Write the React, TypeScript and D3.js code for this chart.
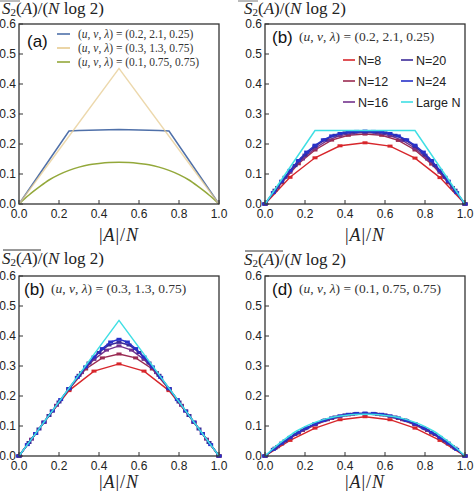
import React from "react";
import * as d3 from "d3";

// ---------- data ----------
const xTicks = [0, 0.2, 0.4, 0.6, 0.8, 1.0];
const yTicks = [0, 0.1, 0.2, 0.3, 0.4, 0.5, 0.6];

// panel (a)
const aBlueX = [0, 0.25, 0.3, 0.4, 0.5, 0.6, 0.7, 0.75, 1];
const aBlueY = [0, 0.243, 0.245, 0.247, 0.248, 0.247, 0.245, 0.243, 0];
const aTanX = [0, 0.5, 1];
const aTanY = [0, 0.452, 0];
const greenX = [0, 0.05, 0.1, 0.15, 0.2, 0.25, 0.3, 0.35, 0.4, 0.45, 0.5, 0.55, 0.6, 0.65, 0.7, 0.75, 0.8, 0.85, 0.9, 0.95, 1];
const greenY = [0, 0.030, 0.056, 0.080, 0.098, 0.112, 0.123, 0.131, 0.135, 0.138, 0.139, 0.138, 0.135, 0.131, 0.123, 0.112, 0.098, 0.080, 0.056, 0.030, 0];
const aLegend = ["(0.2, 2.1, 0.25)", "(0.3, 1.3, 0.75)", "(0.1, 0.75, 0.75)"];

const sizes = [8, 12, 16, 20, 24];
const seriesNames = ["N=8", "N=12", "N=16", "N=20", "N=24", "Large N"];

// panel (b) (u,v,λ)=(0.2,2.1,0.25)
const b8 = [0, 0.089, 0.154, 0.194, 0.204, 0.193, 0.153, 0.088, 0];
const b12 = [0, 0.071, 0.134, 0.180, 0.213, 0.229, 0.233, 0.229, 0.212, 0.180, 0.133, 0.071, 0];
const b16 = [0, 0.055, 0.106, 0.150, 0.186, 0.212, 0.228, 0.236, 0.238, 0.236, 0.228, 0.212, 0.186, 0.150, 0.106, 0.055, 0];
const b20 = [0, 0.046, 0.089, 0.128, 0.163, 0.192, 0.214, 0.229, 0.237, 0.240, 0.241, 0.240, 0.237, 0.229, 0.214, 0.192, 0.163, 0.128, 0.089, 0.046, 0];
const b24 = [0, 0.038, 0.076, 0.112, 0.145, 0.173, 0.196, 0.214, 0.227, 0.235, 0.240, 0.242, 0.243, 0.242, 0.240, 0.235, 0.227, 0.214, 0.196, 0.173, 0.145, 0.112, 0.076, 0.038, 0];
const bLargeX = [0, 0.25, 0.75, 1];
const bLargeY = [0, 0.245, 0.245, 0];

// panel (c) (u,v,λ)=(0.3,1.3,0.75)
const c8 = [0, 0.112, 0.218, 0.283, 0.307, 0.283, 0.218, 0.112, 0];
const c12 = [0, 0.075, 0.150, 0.222, 0.290, 0.327, 0.340, 0.327, 0.290, 0.222, 0.150, 0.075, 0];
const c16 = [0, 0.056, 0.113, 0.169, 0.224, 0.278, 0.322, 0.353, 0.367, 0.353, 0.322, 0.278, 0.224, 0.169, 0.113, 0.056, 0];
const c20 = [0, 0.045, 0.090, 0.135, 0.180, 0.225, 0.269, 0.310, 0.345, 0.370, 0.379, 0.370, 0.345, 0.310, 0.269, 0.225, 0.180, 0.135, 0.090, 0.045, 0];
const c24 = [0, 0.038, 0.075, 0.113, 0.150, 0.188, 0.225, 0.262, 0.297, 0.330, 0.358, 0.380, 0.389, 0.380, 0.358, 0.330, 0.297, 0.262, 0.225, 0.188, 0.150, 0.113, 0.075, 0.038, 0];
const cLargeX = [0, 0.5, 1];
const cLargeY = [0, 0.452, 0];

// panel (d) (u,v,λ)=(0.1,0.75,0.75)
const d8 = [0, 0.052, 0.093, 0.121, 0.131, 0.121, 0.093, 0.052, 0];
const d12 = [0, 0.040, 0.076, 0.104, 0.125, 0.137, 0.140, 0.137, 0.125, 0.104, 0.076, 0.040, 0];
const d16 = [0, 0.031, 0.060, 0.085, 0.105, 0.121, 0.132, 0.139, 0.141, 0.139, 0.132, 0.121, 0.105, 0.085, 0.060, 0.031, 0];
const d20 = [0, 0.026, 0.050, 0.072, 0.091, 0.107, 0.120, 0.130, 0.137, 0.141, 0.142, 0.141, 0.137, 0.130, 0.120, 0.107, 0.091, 0.072, 0.050, 0.026, 0];
const d24 = [0, 0.022, 0.043, 0.062, 0.079, 0.094, 0.107, 0.118, 0.127, 0.134, 0.139, 0.142, 0.143, 0.142, 0.139, 0.134, 0.127, 0.118, 0.107, 0.094, 0.079, 0.062, 0.043, 0.022, 0];

// ---------- styles ----------
const nColors = ["#d7262b", "#9a2b52", "#74328c", "#3c2a98", "#2731c9"];
const cyan = "#3fdfe4";
const aColors = ["#4f70a9", "#e6cb90", "#93a83a"];
const W = 200, H = 180;
const panels = [
  { x0: 19, y0: 24 },
  { x0: 265, y0: 24 },
  { x0: 19, y0: 276 },
  { x0: 265, y0: 276 },
];
const sans = "'Liberation Sans', Arial, sans-serif";
const serif = "'Liberation Serif', 'Times New Roman', serif";

const xs = d3.scaleLinear().domain([0, 1]).range([0, W]);
const ys = d3.scaleLinear().domain([0, 0.6]).range([H, 0]);

const lineLin = d3.line<[number, number]>().x(d => xs(d[0])).y(d => ys(d[1]));
const lineSmooth = d3.line<[number, number]>().x(d => xs(d[0])).y(d => ys(d[1])).curve(d3.curveMonotoneX);

const zip = (x: number[], y: number[]) => x.map((v, i) => [v, y[i]] as [number, number]);
const finite = (N: number, vals: number[]) => vals.map((v, k) => [k / N, v] as [number, number]);

function Frame({ x0, y0 }: { x0: number; y0: number }) {
  return (
    <g transform={`translate(${x0},${y0})`}>
      {xTicks.map(t => (
        <g key={"x" + t}>
          <line x1={xs(t)} x2={xs(t)} y1={H} y2={H - 4} stroke="#333" strokeWidth={1} />
          <text x={xs(t)} y={H + 14} fontSize={12} fontFamily={sans} textAnchor="middle" fill="#222">{t.toFixed(1)}</text>
        </g>
      ))}
      {yTicks.map(t => (
        <g key={"y" + t}>
          <line x1={0} x2={4} y1={ys(t)} y2={ys(t)} stroke="#333" strokeWidth={1} />
          <text x={-3} y={ys(t) + 4} fontSize={12} fontFamily={sans} textAnchor="end" fill="#222">{t.toFixed(1)}</text>
        </g>
      ))}
    </g>
  );
}

function Border({ x0, y0 }: { x0: number; y0: number }) {
  return <rect x={x0} y={y0} width={W} height={H} fill="none" stroke="#333" strokeWidth={1.3} />;
}

function YLabel({ x, y, bar }: { x: number; y: number; bar: boolean }) {
  return (
    <g>
      <text x={x} y={y} fontSize={17} fontFamily={serif} fill="#222">
        <tspan fontStyle="italic">S</tspan>
        <tspan fontSize={11} dy={2}>2</tspan>
        <tspan dy={-2}>(</tspan>
        <tspan fontStyle="italic">A</tspan>
        <tspan>)/(</tspan>
        <tspan fontStyle="italic">N</tspan>
        <tspan> log 2)</tspan>
      </text>
      {bar && <line x1={x + 1} x2={x + 39} y1={y - 14} y2={y - 14} stroke="#333" strokeWidth={1} />}
    </g>
  );
}

function XLabel({ cx, y }: { cx: number; y: number }) {
  return (
    <text x={cx} y={y} fontSize={18} fontFamily={serif} textAnchor="middle" fill="#222" letterSpacing={1}>
      <tspan>|</tspan>
      <tspan fontStyle="italic">A</tspan>
      <tspan>|/</tspan>
      <tspan fontStyle="italic">N</tspan>
    </text>
  );
}

function Params({ x, y, vals, size }: { x: number; y: number; vals: string; size: number }) {
  return (
    <text x={x} y={y} fontSize={size} fontFamily={serif} fill="#333">
      <tspan>(</tspan>
      <tspan fontStyle="italic">u</tspan>
      <tspan>, </tspan>
      <tspan fontStyle="italic">v</tspan>
      <tspan>, </tspan>
      <tspan fontStyle="italic">λ</tspan>
      <tspan>) = {vals}</tspan>
    </text>
  );
}

function FinitePanel({ x0, y0, data, largeX, largeY, smooth }: any) {
  return (
    <g transform={`translate(${x0},${y0})`}>
      {data.map((vals: number[], i: number) => {
        const pts = finite(sizes[i], vals);
        return (
          <g key={i}>
            <path d={lineLin(pts) || ""} fill="none" stroke={nColors[i]} strokeWidth={1.4} />
            {pts.map((p, j) => (
              <rect key={j} x={xs(p[0]) - 2.5} y={ys(p[1]) - 1.5} width={5} height={3} fill={nColors[i]} />
            ))}
          </g>
        );
      })}
      <path d={(smooth ? lineSmooth : lineLin)(zip(largeX, largeY)) || ""} fill="none" stroke={cyan} strokeWidth={1.5} />
    </g>
  );
}

export default function App() {
  const [pa, pb, pc, pd] = panels;
  return (
    <svg width={474} height={491} style={{ position: "absolute", left: 0, top: 0, background: "#fff" }}>
      <rect x={0} y={0} width={474} height={491} fill="#fff" />
      {/* faint cropped overline remnants at top */}
      <line x1={0} x2={20} y1={1} y2={1} stroke="#bbb" strokeWidth={2} />
      <line x1={238} x2={258} y1={1} y2={1} stroke="#bbb" strokeWidth={2} />

      {panels.map((p, i) => <Frame key={i} {...p} />)}

      {/* panel (a) */}
      <g transform={`translate(${pa.x0},${pa.y0})`}>
        <path d={lineSmooth(zip(greenX, greenY)) || ""} fill="none" stroke={aColors[2]} strokeWidth={1.5} />
        <path d={lineLin(zip(aBlueX, aBlueY)) || ""} fill="none" stroke={aColors[0]} strokeWidth={1.5} />
        <path d={lineLin(zip(aTanX, aTanY)) || ""} fill="none" stroke={aColors[1]} strokeWidth={1.5} strokeOpacity={0.75} />
        {aLegend.map((s, i) => (
          <g key={i}>
            <line x1={38} x2={51} y1={10 + i * 14} y2={10 + i * 14} stroke={aColors[i]} strokeWidth={1.6} />
            <Params x={59} y={13.5 + i * 14} vals={s} size={11.5} />
          </g>
        ))}
        <text x={8} y={23} fontSize={17} fontFamily={sans} fill="#111">(a)</text>
      </g>

      {/* panel (b) */}
      <FinitePanel x0={pb.x0} y0={pb.y0} data={[b8, b12, b16, b20, b24]} largeX={bLargeX} largeY={bLargeY} smooth={false} />
      <text x={pb.x0 + 7} y={pb.y0 + 19} fontSize={17} fontFamily={sans} fill="#111">(b)</text>
      <Params x={pb.x0 + 34} y={pb.y0 + 17} vals="(0.2, 2.1, 0.25)" size={13.5} />
      {seriesNames.map((s, i) => {
        const col = i < 3 ? 0 : 1;
        const row = i % 3;
        const lx = col === 0 ? 343 : 401;
        const ly = 60 + row * 21;
        const c = i < 5 ? nColors[i] : cyan;
        return (
          <g key={s}>
            <line x1={lx} x2={lx + 12} y1={ly} y2={ly} stroke={c} strokeWidth={1.6} />
            <text x={lx + 15} y={ly + 4.5} fontSize={12.5} fontFamily={sans} fill="#222">{s}</text>
          </g>
        );
      })}

      {/* panel (c) */}
      <FinitePanel x0={pc.x0} y0={pc.y0} data={[c8, c12, c16, c20, c24]} largeX={cLargeX} largeY={cLargeY} smooth={false} />
      <text x={pc.x0 + 5} y={pc.y0 + 19} fontSize={17} fontFamily={sans} fill="#111">(b)</text>
      <Params x={pc.x0 + 32} y={pc.y0 + 17} vals="(0.3, 1.3, 0.75)" size={13.5} />

      {/* panel (d) */}
      <FinitePanel x0={pd.x0} y0={pd.y0} data={[d8, d12, d16, d20, d24]} largeX={greenX} largeY={greenY} smooth={true} />
      <text x={pd.x0 + 7} y={pd.y0 + 19} fontSize={17} fontFamily={sans} fill="#111">(d)</text>
      <Params x={pd.x0 + 34} y={pd.y0 + 17} vals="(0.1, 0.75, 0.75)" size={13.5} />

      {panels.map((p, i) => <Border key={i} {...p} />)}

      <YLabel x={2} y={14} bar={false} />
      <YLabel x={244} y={14} bar={false} />
      <YLabel x={2} y={264} bar={true} />
      <YLabel x={244} y={265} bar={true} />

      <XLabel cx={pa.x0 + W / 2} y={241} />
      <XLabel cx={pb.x0 + W / 2} y={241} />
      <XLabel cx={pc.x0 + W / 2} y={488} />
      <XLabel cx={pd.x0 + W / 2} y={488} />
    </svg>
  );
}
